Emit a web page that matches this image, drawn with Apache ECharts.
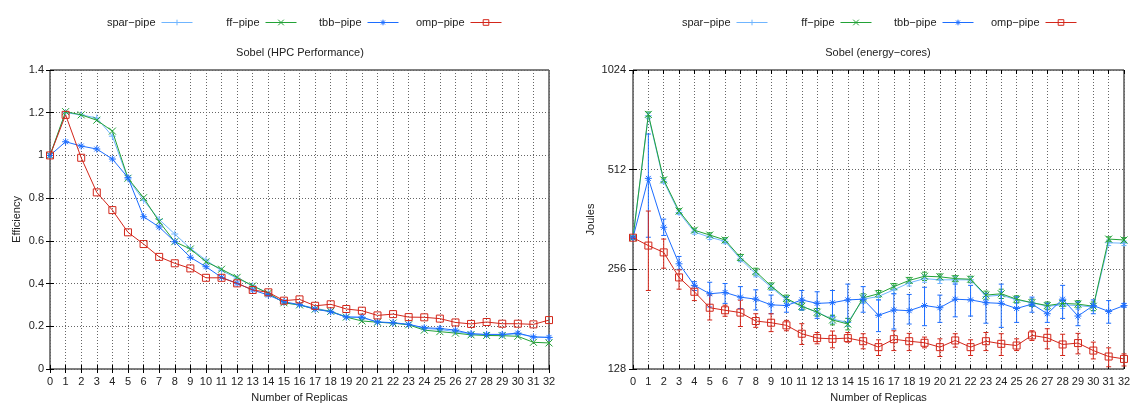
<!DOCTYPE html>
<html><head><meta charset="utf-8">
<script src="https://cdn.jsdelivr.net/npm/echarts@6/dist/echarts.min.js"></script>
<style>html,body{margin:0;padding:0;background:#fff}#c{width:1131px;height:405px}</style>
</head><body><div id="c"></div>
<script>
// ---- data ----
const replicas = [0,1,2,3,4,5,6,7,8,9,10,11,12,13,14,15,16,17,18,19,20,21,22,23,24,25,26,27,28,29,30,31,32];
const seriesNames = ['spar\u2212pipe','ff\u2212pipe','tbb\u2212pipe','omp\u2212pipe'];
const titleLeft = 'Sobel (HPC Performance)';
const titleRight = 'Sobel (energy\u2212cores)';
const xName = 'Number of Replicas';
const yNameLeft = 'Efficiency';
const yNameRight = 'Joules';

// Efficiency (left chart)
const effSpar = [1.00,1.20,1.19,1.175,1.09,0.89,0.79,0.70,0.632,0.565,0.51,0.46,0.425,0.39,0.355,0.31,0.30,0.285,0.27,0.245,0.24,0.22,0.215,0.208,0.19,0.185,0.175,0.165,0.16,0.16,0.165,0.15,0.148];
const effFF   = [1.00,1.205,1.19,1.165,1.114,0.893,0.802,0.69,0.596,0.562,0.502,0.467,0.429,0.389,0.355,0.31,0.30,0.28,0.27,0.243,0.225,0.219,0.215,0.207,0.182,0.175,0.168,0.16,0.157,0.156,0.153,0.125,0.122];
const effTBB  = [1.00,1.064,1.044,1.03,0.983,0.896,0.713,0.665,0.596,0.523,0.479,0.429,0.401,0.37,0.346,0.315,0.301,0.28,0.268,0.243,0.243,0.22,0.217,0.209,0.193,0.19,0.182,0.165,0.162,0.162,0.168,0.15,0.148];
const effOMP  = [1.00,1.19,0.989,0.827,0.744,0.64,0.585,0.525,0.495,0.471,0.427,0.427,0.401,0.37,0.359,0.32,0.326,0.296,0.303,0.281,0.273,0.251,0.257,0.243,0.242,0.236,0.218,0.211,0.22,0.212,0.212,0.209,0.229];

// Energy in Joules (right chart): means and error bar bounds
const jSpar = [319,745,472,380,332,320,311,275,248,226,207,198,190,181,177,208,212,222,233,240,238,238,238,212,214,207,203,198,200,199,197,308,307];
const jSparHigh = [322,760,478,385,337,325,316,280,253,231,212,203,195,186,182,214,217,228,238,246,244,243,243,217,219,212,208,203,205,204,202,314,312];
const jSparLow  = [316,730,466,375,327,315,306,270,243,221,202,193,185,176,172,202,207,216,228,234,232,233,233,207,209,202,198,193,195,194,192,302,302];
const jFF = [319,752,477,384,336,325,314,278,252,228,209,198,190,180,175,210,216,227,237,244,243,240,239,214,216,208,203,199,202,201,198,316,314];
const jFFHigh = [322,765,484,390,341,330,319,284,258,233,214,203,195,186,182,216,221,232,242,251,248,245,244,220,223,213,208,204,206,206,204,321,319];
const jFFLow  = [316,740,470,378,331,320,309,272,246,223,204,193,185,174,168,204,211,222,232,237,238,235,234,208,209,203,198,194,198,196,192,311,309];
const jTBB = [319,482,343,266,229,216,218,211,208,200,199,207,202,203,207,208,186,193,192,199,196,208,207,203,202,195,201,188,208,185,199,191,199];
const jTBBHigh = [321,656,363,280,235,234,232,227,222,214,211,221,219,221,231,227,207,216,215,226,214,231,229,216,231,211,211,202,229,204,207,206,202];
const jTBBLow  = [317,320,324,256,221,197,202,195,193,188,190,193,182,184,177,190,166,169,175,173,177,184,185,176,171,177,190,177,182,173,188,176,197];
const jOMP = [319,302,288,242,219,196,192.6,189.5,178.7,176.6,173.4,163.6,158.7,157.9,158.7,155.3,149,157.5,155.3,153.6,149,156.1,149,155.3,152.5,150.7,161.7,159,151.8,153.3,145.5,139.6,137.3];
const jOMPHigh = [321,384,316,255,228,214,199.5,206.6,188,188,179.5,175.4,165,166.7,165,163.6,156.8,167,164,159.8,157.9,163.6,156.8,165,163.6,157.9,167,169.4,163,164,154.3,148.3,142.2];
const jOMPLow  = [317,221,258,223,206,180,184.7,172,171,166,167,151.8,152.5,148.3,154.3,147.3,140.6,145.5,145.5,148.3,139.6,149,140.6,145.5,140.6,145.5,156.1,147.3,140.6,142.2,137.3,130,130.7];

// ---- styling ----
const FONT = '"Liberation Sans", Arial, Helvetica, sans-serif';
const TXT = '#222';
const COLORS = ['#6fb5ff', '#22a236', '#1c6dff', '#d3261a'];
const SYMBOLS = [
  'path://M5,0L5,10M0,5L10,5',
  'path://M1,1L9,9M1,9L9,1',
  'path://M5,0L5,10M0,5L10,5M1.5,1.5L8.5,8.5M1.5,8.5L8.5,1.5',
  'rect'
];

function lineSeries(idx, values, axisIdx) {
  const c = COLORS[idx];
  return {
    type: 'line', name: seriesNames[idx], xAxisIndex: axisIdx, yAxisIndex: axisIdx,
    data: replicas.map((x, i) => [x, values[i]]),
    symbol: SYMBOLS[idx], symbolSize: 7, showSymbol: true,
    lineStyle: { color: c, width: 1 },
    itemStyle: { color: idx === 3 ? 'rgba(255,255,255,0)' : c, borderColor: c, borderWidth: 1 },
    emphasis: { disabled: true }, animation: false, z: 3 + idx
  };
}
function errSeries(idx, lows, highs, axisIdx) {
  const c = COLORS[idx];
  return {
    type: 'custom', name: seriesNames[idx], xAxisIndex: axisIdx, yAxisIndex: axisIdx,
    silent: true, animation: false, z: 2 + idx,
    data: replicas.map((x, i) => [x, lows[i], highs[i]]),
    encode: { x: 0, y: [1, 2] },
    renderItem(params, api) {
      const x = api.value(0);
      const lo = api.coord([x, api.value(1)]);
      const hi = api.coord([x, api.value(2)]);
      const w = 2.5;
      const st = { stroke: c, lineWidth: 1 };
      return { type: 'group', children: [
        { type: 'line', shape: { x1: lo[0], y1: lo[1], x2: hi[0], y2: hi[1] }, style: st },
        { type: 'line', shape: { x1: lo[0] - w, y1: lo[1], x2: lo[0] + w, y2: lo[1] }, style: st },
        { type: 'line', shape: { x1: hi[0] - w, y1: hi[1], x2: hi[0] + w, y2: hi[1] }, style: st }
      ]};
    }
  };
}

const labelStyle = { color: TXT, fontSize: 11, fontFamily: FONT };
const splitStyle = { show: true, lineStyle: { color: '#666', type: [1, 2], width: 1 } };
const tickIn = { show: true, inside: true, length: 4, lineStyle: { color: '#000', width: 1 } };

function xAxes(grid) {
  return [
    { type: 'value', gridIndex: grid, min: 0, max: 32, interval: 1, position: 'bottom',
      axisLine: { show: false }, axisTick: tickIn, splitLine: splitStyle,
      axisLabel: Object.assign({ margin: 7 }, labelStyle),
      name: xName, nameLocation: 'middle', nameGap: 23, nameTextStyle: labelStyle },
    { type: 'value', gridIndex: grid, min: 0, max: 32, interval: 1, position: 'top',
      axisLine: { show: false }, axisTick: tickIn, splitLine: { show: false }, axisLabel: { show: false } }
  ];
}

const gridBase = { top: 70, bottom: 36, show: true, borderColor: '#000', borderWidth: 1,
  backgroundColor: 'transparent', containLabel: false, outerBoundsMode: 'none' };

const option = {
  animation: false,
  backgroundColor: '#fff',
  grid: [
    Object.assign({ left: 50, right: 582 }, gridBase),
    Object.assign({ left: 633, right: 7 }, gridBase)
  ],
  legend: [],
  xAxis: [...xAxes(0), ...xAxes(1)],
  yAxis: [
    { type: 'value', gridIndex: 0, min: 0, max: 1.4, interval: 0.2, position: 'left',
      axisLine: { show: false }, axisTick: tickIn, splitLine: splitStyle,
      axisLabel: Object.assign({ margin: 6, formatter: v => String(Math.round(v * 10) / 10) }, labelStyle),
      name: yNameLeft, nameLocation: 'middle', nameGap: 28, nameTextStyle: labelStyle },
    { type: 'value', gridIndex: 0, min: 0, max: 1.4, interval: 0.2, position: 'right',
      axisLine: { show: false }, axisTick: tickIn, splitLine: { show: false }, axisLabel: { show: false } },
    { type: 'log', logBase: 2, gridIndex: 1, min: 128, max: 1024, interval: 1, position: 'left',
      axisLine: { show: false }, axisTick: tickIn, splitLine: splitStyle, minorTick: { show: false },
      axisLabel: Object.assign({ margin: 7, formatter: v => String(Math.round(v)) }, labelStyle),
      name: yNameRight, nameLocation: 'middle', nameGap: 37, nameTextStyle: labelStyle },
    { type: 'log', logBase: 2, gridIndex: 1, min: 128, max: 1024, interval: 1, position: 'right',
      axisLine: { show: false }, axisTick: tickIn, splitLine: { show: false }, axisLabel: { show: false } }
  ],
  graphic: [
    { type: 'text', x: 300, y: 53, silent: true, style: { text: titleLeft, textAlign: 'center', textVerticalAlign: 'middle', font: '11px ' + FONT, fill: TXT } },
    { type: 'text', x: 878, y: 53, silent: true, style: { text: titleRight, textAlign: 'center', textVerticalAlign: 'middle', font: '11px ' + FONT, fill: TXT } }
  ],
  series: [
    lineSeries(0, effSpar, 0), lineSeries(1, effFF, 0), lineSeries(2, effTBB, 0), lineSeries(3, effOMP, 0),
    lineSeries(0, jSpar, 2), lineSeries(1, jFF, 2), lineSeries(2, jTBB, 2), lineSeries(3, jOMP, 2),
    errSeries(0, jSparLow, jSparHigh, 2), errSeries(1, jFFLow, jFFHigh, 2),
    errSeries(2, jTBBLow, jTBBHigh, 2), errSeries(3, jOMPLow, jOMPHigh, 2)
  ]
};

// legends: one per item, anchored at the right end of the line sample
const legendEnds = [[193, 297, 399, 502], [768, 872, 974, 1077]];
legendEnds.forEach(ends => {
  ends.forEach((e, i) => {
    option.legend.push({
      data: [seriesNames[i]], right: 1131 - e, top: 17, padding: 0,
      itemWidth: 31, itemHeight: 7, itemGap: 0, align: 'right', selectedMode: false,
      itemStyle: { borderWidth: 1 }, lineStyle: { width: 1 },
      textStyle: { color: TXT, fontSize: 11, fontFamily: FONT, padding: [0, 1, 0, 0] }
    });
  });
});

const chart = echarts.init(document.getElementById('c'), null, { renderer: 'canvas' });
chart.setOption(option);
</script>
</body></html>
